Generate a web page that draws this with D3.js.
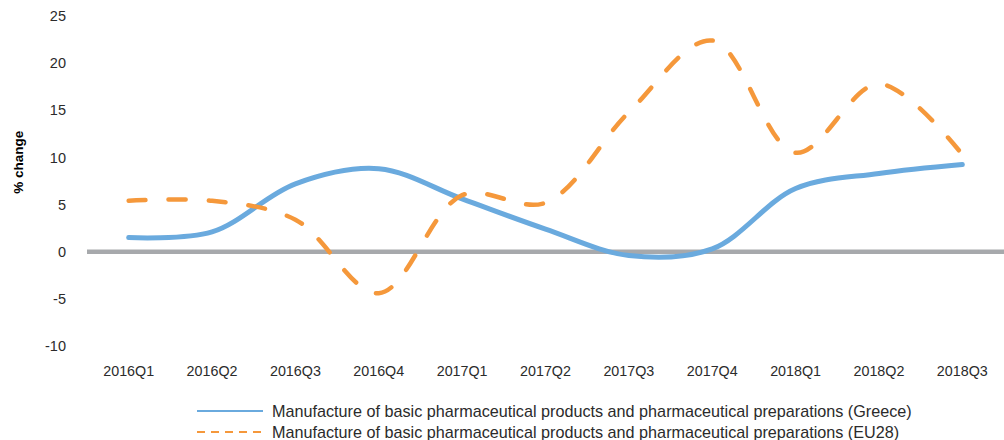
<!DOCTYPE html>
<html>
<head>
<meta charset="utf-8">
<script src="https://cdn.jsdelivr.net/npm/d3@7"></script>
<style>
  body { margin: 0; background: #fff; }
  svg { display: block; font-family: "Liberation Sans", Arial, sans-serif; }
</style>
</head>
<body>
<svg id="chart" width="1004" height="440"></svg>
<script>
const categories = ["2016Q1","2016Q2","2016Q3","2016Q4","2017Q1","2017Q2","2017Q3","2017Q4","2018Q1","2018Q2","2018Q3"];
const greece = [1.5, 2.1, 7.2, 8.8, 5.6, 2.4, -0.4, 0.3, 6.7, 8.3, 9.25];
const eu28 = [5.4, 5.4, 3.4, -4.4, 6.0, 5.2, 14.8, 22.4, 10.5, 17.8, 10.3];
const yTicks = [-10, -5, 0, 5, 10, 15, 20, 25];
const seriesNames = [
  "Manufacture of basic pharmaceutical products and pharmaceutical preparations (Greece)",
  "Manufacture of basic pharmaceutical products and pharmaceutical preparations (EU28)"
];

const svg = d3.select("#chart");
const x = d3.scalePoint().domain(categories).range([87, 1004]).padding(0.5);
const y = d3.scaleLinear().domain([-10, 25]).range([346, 16]);

const textColor = "#2b2b2b";

// y tick labels
svg.append("g").selectAll("text").data(yTicks).join("text")
  .attr("x", 66).attr("y", d => y(d)).attr("dy", "0.35em")
  .attr("text-anchor", "end").attr("font-size", 14.5).attr("fill", textColor)
  .text(d => d);

// y axis title
svg.append("text")
  .attr("transform", `translate(23,${y(9.5)}) rotate(-90)`)
  .attr("text-anchor", "middle").attr("font-size", 13.5).attr("font-weight", "bold")
  .attr("fill", "#000").text("% change");

// x tick labels
svg.append("g").selectAll("text").data(categories).join("text")
  .attr("x", d => x(d)).attr("y", 376)
  .attr("text-anchor", "middle").attr("font-size", 14.3).attr("fill", textColor)
  .text(d => d);

// zero line
svg.append("line")
  .attr("x1", 87).attr("x2", 1004).attr("y1", y(0)).attr("y2", y(0))
  .attr("stroke", "#a7a9ac").attr("stroke-width", 4.5);

const line = d3.line()
  .x((d, i) => x(categories[i]))
  .y(d => y(d))
  .curve(d3.curveCatmullRom.alpha(0.5));

svg.append("path").datum(greece).attr("d", line)
  .attr("fill", "none").attr("stroke", "#6aaade").attr("stroke-width", 5)
  .attr("stroke-linecap", "round");

svg.append("path").datum(eu28).attr("d", line)
  .attr("fill", "none").attr("stroke", "#f5983b").attr("stroke-width", 4.5)
  .attr("stroke-linecap", "round").attr("stroke-dasharray", "17,23");

// legend
const legend = svg.append("g");
const rows = [
  {name: seriesNames[0], color: "#6aaade", dash: null, y: 411},
  {name: seriesNames[1], color: "#f5983b", dash: "8,6", y: 432}
];
rows.forEach(r => {
  legend.append("line").attr("x1", 197).attr("x2", 263).attr("y1", r.y).attr("y2", r.y)
    .attr("stroke", r.color).attr("stroke-width", 2.2)
    .attr("stroke-dasharray", r.dash);
  legend.append("text").attr("x", 272).attr("y", r.y).attr("dy", "0.35em")
    .attr("font-size", 16.2).attr("fill", textColor).text(r.name);
});
</script>
</body>
</html>
